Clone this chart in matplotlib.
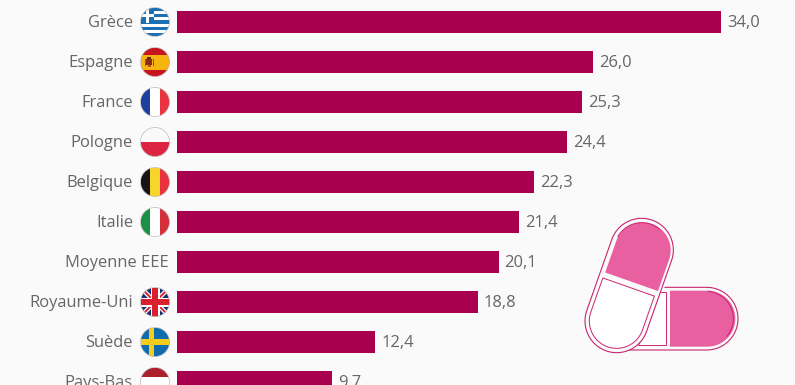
"""Bar chart with round flags and a pill drawing, laid out in pixels."""
import numpy as np
import matplotlib.pyplot as plt
from matplotlib.patches import Circle, Polygon, Rectangle

plt.rcParams["font.family"] = ["Open Sans", "DejaVu Sans"]

countries = ["Grèce", "Espagne", "France", "Pologne", "Belgique", "Italie",
             "Moyenne EEE", "Royaume-Uni", "Suède", "Pays-Bas"]
values = [34.0, 26.0, 25.3, 24.4, 22.3, 21.4, 20.1, 18.8, 12.4, 9.7]

BG = "#fafafa"
BAR = "#a8004f"
TXT = "#666666"
W, H = 795, 385
PINK = "#e8609f"
LINE = "#c9256f"

fig = plt.figure(figsize=(W / 100, H / 100), dpi=100, facecolor=BG)
ax = fig.add_axes([177 / W, 0, 1 - 177 / W, 1], facecolor="none")
ax.barh(range(len(values)), values, height=0.55, color=BAR)
ax.set_xlim(0, (W - 177) / 16)
ax.set_ylim((H - 22) / 40, -22 / 40)
ax.axis("off")

for i, (c, v) in enumerate(zip(countries, values)):
    ax.annotate(f"{v:.1f}".replace(".", ","), (v, i), xytext=(6, -1), textcoords="offset pixels",
                ha="left", va="center", fontsize=11.9, color=TXT, annotation_clip=False)
    off = -8 if c == "Moyenne EEE" else -44
    ax.annotate(c, (0, i), xytext=(off, -1), textcoords="offset pixels",
                ha="right", va="center", fontsize=11.9, color=TXT, annotation_clip=False)

# overlay in pixel coords (y down) for flags and the pill
ov = fig.add_axes([0, 0, 1, 1], facecolor="none")
ov.set_xlim(0, W); ov.set_ylim(H, 0); ov.axis("off")

R = 14.5


def rect(cx, cy, clip, x0, y0, x1, y1, color, z=3):
    p = Rectangle((cx + x0, cy + y0), x1 - x0, y1 - y0, fc=color, ec="none", zorder=z)
    ov.add_patch(p); p.set_clip_path(clip)


def flag(name, cx, cy):
    clip = Circle((cx, cy), R, transform=ov.transData)
    r = lambda *a, **k: rect(cx, cy, clip, *a, **k)
    if name == "Grèce":
        r(-R, -R, R, R, "#ffffff")
        for k in range(5):
            y = -R + k * 2 * 2 * R / 9
            r(-R, y, R, y + 2 * R / 9, "#1a6fb5")
        r(-R, -R, -1, 1.2, "#1a6fb5")
        r(-9.5, -R, -6.5, 1.2, "#ffffff")
        r(-R, -8, -1, -5, "#ffffff")
    elif name == "Espagne":
        r(-R, -R, R, R, "#c8141e")
        r(-R, -7.5, R, 7.5, "#f6b40e")
        r(-9, -3, -3, 3, "#8c2a1a")
        r(-8, -5, -4, -3, "#4a3010")
        r(-10.5, -3, -9.5, 4, "#7a5a30"); r(-2.5, -3, -1.5, 4, "#7a5a30")
        r(-7.5, 3, -4.5, 5, "#b0522a")
    elif name == "France":
        r(-R, -R, -4.8, R, "#1f3f9e")
        r(-4.8, -R, 4.8, R, "#ffffff")
        r(4.8, -R, R, R, "#ea3340")
    elif name == "Pologne":
        r(-R, -R, R, 0, "#fafafa")
        r(-R, 0, R, R, "#dc2440")
    elif name == "Belgique":
        r(-R, -R, -4.8, R, "#151515")
        r(-4.8, -R, 4.8, R, "#f8d52a")
        r(4.8, -R, R, R, "#e8333f")
    elif name == "Italie":
        r(-R, -R, -4.8, R, "#1b9146")
        r(-4.8, -R, 4.8, R, "#ffffff")
        r(4.8, -R, R, R, "#d4303a")
    elif name == "Royaume-Uni":
        r(-R, -R, R, R, "#14306e")
        for s in (1, -1):
            for col, lw in (("#ffffff", 3.2), ("#d8202f", 1.4)):
                ln, = ov.plot([cx - R, cx + R], [cy - s * R, cy + s * R], color=col, lw=lw, zorder=4)
                ln.set_clip_path(clip)
        r(-R, -4.5, R, 4.5, "#ffffff", z=5); r(-4.5, -R, 4.5, R, "#ffffff", z=5)
        r(-R, -2.6, R, 2.6, "#d8202f", z=6); r(-2.6, -R, 2.6, R, "#d8202f", z=6)
    elif name == "Suède":
        r(-R, -R, R, R, "#0f6cae")
        r(-R, -2.6, R, 2.6, "#f8cc1b"); r(-6.5, -R, -1.5, R, "#f8cc1b")
    elif name == "Pays-Bas":
        r(-R, -R, R, -4.8, "#ae1f2c")
        r(-R, -4.8, R, 4.8, "#ffffff")
        r(-R, 4.8, R, R, "#1f4a8c")
    ov.add_patch(Circle((cx, cy), R, fc="none", ec="#bbbbbb", lw=0.5, zorder=7))


for i, c in enumerate(countries):
    if c != "Moyenne EEE":
        _, yd = ax.transData.transform((0, i))
        flag(c, 155, H - yd)


# pill, coordinates (3x, origin 570,210)
def z(pts):
    return np.asarray(pts, float) / 3 + [570, 210]


def arc(c, r, a0, a1):
    t = np.radians(np.linspace(a0, a1, 60))
    return np.column_stack([c[0] + r * np.cos(t), c[1] + r * np.sin(t)])


A, B = np.array([215., 120.]), np.array([140., 333.])
ang = np.degrees(np.arctan2(*(A - B)[::-1]))  # direction B -> A


def half(c, r, a, flat):
    """dome at c pointing along angle a, flat end at distance flat behind c"""
    d = np.array([np.cos(np.radians(a)), np.sin(np.radians(a))])
    n = np.array([-d[1], d[0]])
    pts = arc(c, r, a - 90, a + 90)
    back = c - d * flat
    return np.vstack([pts, back + n * r, back - n * r])


# right pill
outer_r = np.vstack([[[170, 420], [410, 420]], arc((410, 326), 94, 90, -90), [[285, 232]]])
ov.plot(*z(outer_r).T, color=LINE, lw=0.8, zorder=3)
ov.add_patch(Polygon(z(half(np.array([412., 326.]), 84, 0, 112)), fc=PINK, ec="none", zorder=3))
ov.plot(*z(arc((408, 326), 82, -85, 40)).T, color=LINE, lw=0.7, zorder=3)
ov.add_patch(Polygon(z([[205, 405], [287, 405], [287, 245], [268, 245]]), fc="white", ec=LINE, lw=0.7, zorder=3))

# left pill
outer_l = np.vstack([arc(A, 95, ang - 90, ang + 90), arc(B, 95, ang + 90, ang + 270)])
ov.add_patch(Polygon(z(outer_l), fc=BG, ec=LINE, lw=0.8, zorder=4))
ov.add_patch(Polygon(z(half(A + [3, 1], 84, ang, 100)), fc=PINK, ec="none", zorder=5))
ov.plot(*z(arc(A, 82, ang - 80, ang + 20)).T, color=LINE, lw=0.7, zorder=6)
ov.add_patch(Polygon(z(half(B, 82, ang + 180, 108)), fc="white", ec=LINE, lw=0.7, zorder=5))

fig.savefig("out.png", dpi=100, facecolor=BG)
